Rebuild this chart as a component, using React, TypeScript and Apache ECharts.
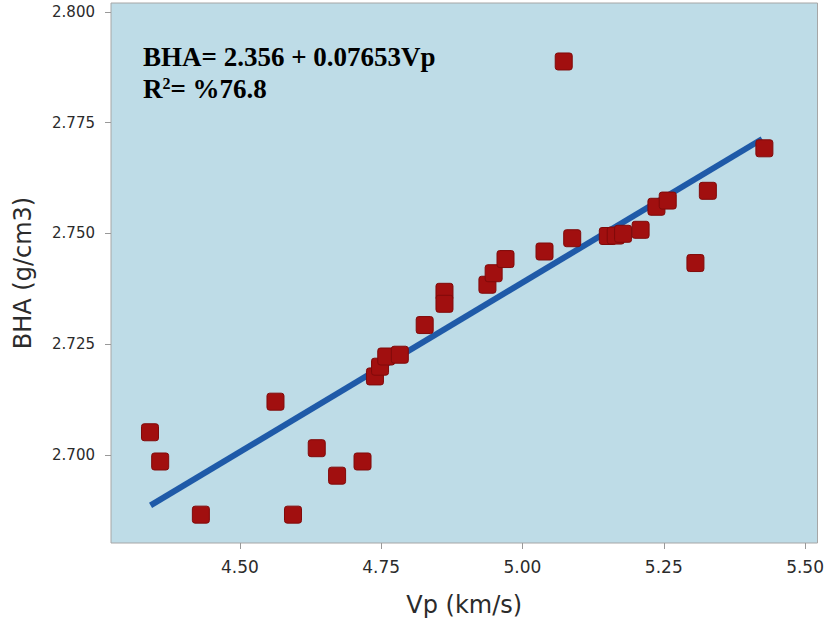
import React, { useEffect, useRef } from "react";
import * as echarts from "echarts";

const vpValues = [
  4.341, 4.359, 4.431, 4.563, 4.594, 4.636, 4.672, 4.717, 4.739, 4.748,
  4.759, 4.783, 4.827, 4.862, 4.862, 4.938, 4.949, 4.970, 5.039, 5.073,
  5.088, 5.151, 5.165, 5.178, 5.209, 5.237, 5.257, 5.306, 5.328, 5.428,
];
const bhaValues = [
  2.7051, 2.6985, 2.6865, 2.7120, 2.6865, 2.7015, 2.6953, 2.6985, 2.7177, 2.7199,
  2.7222, 2.7226, 2.7293, 2.7368, 2.7341, 2.7384, 2.7410, 2.7442, 2.7459, 2.7888,
  2.7489, 2.7494, 2.7495, 2.7499, 2.7508, 2.7560, 2.7574, 2.7433, 2.7596, 2.7692,
];
const fitVp = [4.342, 5.424];
const fitBha = [2.6886, 2.7713];
const xTicks = [4.5, 4.75, 5.0, 5.25, 5.5];
const yTicks = [2.7, 2.725, 2.75, 2.775, 2.8];
const equationText = "BHA= 2.356 + 0.07653Vp";
const r2Text = "R{sup|2}= %76.8";

const squareSymbol =
  "path://M2.5,0H13.5Q16,0 16,2.5V13.5Q16,16 13.5,16H2.5Q0,16 0,13.5V2.5Q0,0 2.5,0Z";

export default function App() {
  const ref = useRef<HTMLDivElement>(null);
  useEffect(() => {
    if (!ref.current) return;
    const chart = echarts.init(ref.current, undefined, { renderer: "svg" });
    const labelFont = "DejaVu Sans";
    chart.setOption({
      animation: false,
      backgroundColor: "#ffffff",
      grid: {
        left: 111,
        top: 3,
        right: 9,
        bottom: 87,
        show: true,
        backgroundColor: "#bedce7",
        borderColor: "#a6a6a6",
        borderWidth: 1,
      },
      xAxis: {
        type: "value",
        min: 4.272,
        max: 5.522,
        axisLine: { show: false },
        splitLine: { show: false },
        axisTick: { show: true, length: 6, lineStyle: { color: "#999" }, customValues: xTicks },
        axisLabel: {
          customValues: xTicks,
          formatter: (v: number) => v.toFixed(2),
          fontSize: 17,
          color: "#2b2b2b",
          fontFamily: labelFont,
          margin: 15,
        },
        name: "Vp (km/s)",
        nameLocation: "middle",
        nameGap: 50,
        nameTextStyle: { fontSize: 24, color: "#2b2b2b", fontFamily: labelFont },
      },
      yAxis: {
        type: "value",
        min: 2.6801,
        max: 2.802,
        axisLine: { show: false },
        splitLine: { show: false },
        axisTick: { show: true, length: 6, lineStyle: { color: "#999" }, customValues: yTicks },
        axisLabel: {
          customValues: yTicks,
          formatter: (v: number) => v.toFixed(3),
          fontSize: 15,
          color: "#2b2b2b",
          fontFamily: labelFont,
          margin: 16,
        },
        name: "BHA (g/cm3)",
        nameLocation: "middle",
        nameGap: 76,
        nameTextStyle: { fontSize: 24, color: "#2b2b2b", fontFamily: labelFont },
      },
      graphic: [
        {
          type: "text",
          x: 143,
          y: 56.5,
          style: {
            text: equationText,
            fontFamily: "Liberation Serif",
            fontWeight: "bold",
            fontSize: 27,
            fill: "#000",
            verticalAlign: "middle",
          },
        },
        {
          type: "text",
          x: 143,
          y: 89,
          style: {
            text: r2Text,
            fontFamily: "Liberation Serif",
            fontWeight: "bold",
            fontSize: 27,
            fill: "#000",
            verticalAlign: "middle",
            rich: {
              sup: {
                fontFamily: "Liberation Serif",
                fontWeight: "bold",
                fontSize: 16,
                fill: "#000",
                verticalAlign: "top",
                padding: [0, 0, 10, 0],
              },
            },
          },
        },
      ],
      series: [
        {
          type: "line",
          data: fitVp.map((x, i) => [x, fitBha[i]]),
          symbol: "none",
          lineStyle: { color: "#1f5aa8", width: 6 },
          z: 2,
        },
        {
          type: "scatter",
          data: vpValues.map((x, i) => [x, bhaValues[i]]),
          symbol: squareSymbol,
          symbolSize: 17,
          itemStyle: { color: "#a10f0f", borderColor: "#800a0a", borderWidth: 1, opacity: 1 },
          z: 3,
        },
      ],
    });
    return () => chart.dispose();
  }, []);
  return (
    <div
      ref={ref}
      style={{ position: "fixed", left: 0, top: 0, width: 827, height: 630, background: "#fff" }}
    />
  );
}
